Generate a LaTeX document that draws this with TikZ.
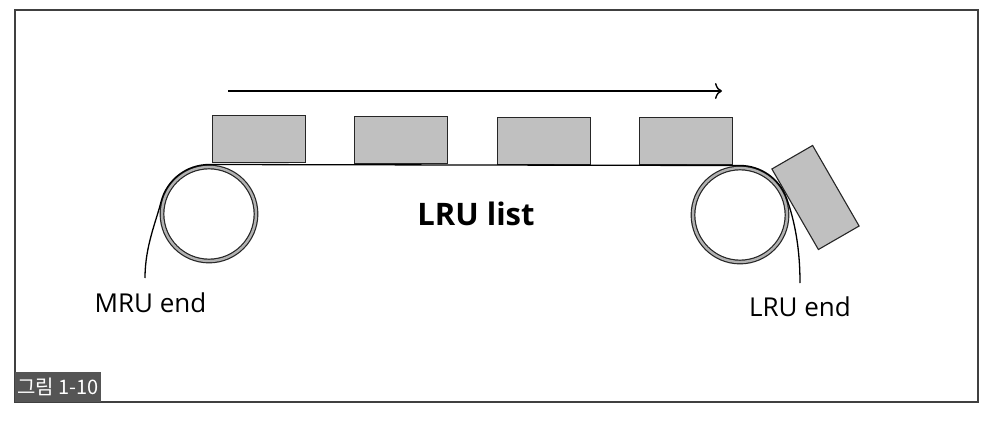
\documentclass[tikz,border=0pt]{standalone}
\usepackage{fontspec}
\setmainfont{Open Sans}
\newfontfamily\krfont{Noto Sans CJK KR}
\usetikzlibrary{arrows.meta,calc}
\definecolor{boxgray}{RGB}{192,192,192}
\definecolor{tagbg}{RGB}{85,85,85}
\tikzset{
  itembox/.style={draw=black!85, line width=1.1pt, fill=boxgray, minimum width=93pt, minimum height=47pt, inner sep=0pt},
  roller/.style={circle, draw=black!85, line width=1.2pt, double=gray!60, double distance=2.4pt, minimum size=94pt, inner sep=0pt},
  belt/.style={draw=black, line width=1.3pt},
  lbl/.style={font=\fontsize{26}{30}\selectfont, anchor=base, inner sep=0pt}
}
\begin{document}
\begin{tikzpicture}[x=1pt,y=1pt]
\useasboundingbox (0,0) rectangle (994,424);
% frame
\draw[line width=1.2pt, black!75] (15,22) rectangle (978,414);
% tag
\node[fill=tagbg, minimum width=86pt, minimum height=30pt, anchor=south west, inner sep=0pt, text=white,
  font=\krfont\fontsize{20}{22}\selectfont] (tag) at (15,22) {그림 1-10};
% rollers
\node[roller] (L) at (209,210) {};
\node[roller] (R) at (740,209) {};
% items
\node[itembox] (b1) at (259,285) {};
\node[itembox] (b2) at (401,284) {};
\node[itembox] (b3) at (544,283) {};
\node[itembox] (b4) at (686,283) {};
\node[itembox, rotate=-60] (b5) at (815.5,226.5) {};
% direction arrow
\coordinate (a1) at (228,333);
\coordinate (a2) at (722,333);
\draw[line width=1.6pt, -{To[length=7pt,width=16pt,line width=1.4pt]}] (a1) -- (a2);
% labels
\node[lbl] (mru) at (150.5,112) {MRU end};
\node[lbl] (lru) at (800,108) {LRU end};
\node[lbl, font=\bfseries\fontsize{31}{34}\selectfont] (list) at (476,199) {LRU list};
% belt
\coordinate (me) at (145,146);
\coordinate (le) at (800,141);
\draw[belt] (me) .. controls (145,178) and (156.5,203.4) .. ($(L.center)+(165:49.5)$)
  arc[start angle=165, end angle=90, radius=49.5]
  -- ($(R.center)+(90:49.5)$)
  arc[start angle=90, end angle=20, radius=49.5]
  .. controls (795,202.3) and (800,175) .. (le);
\end{tikzpicture}
\end{document}
